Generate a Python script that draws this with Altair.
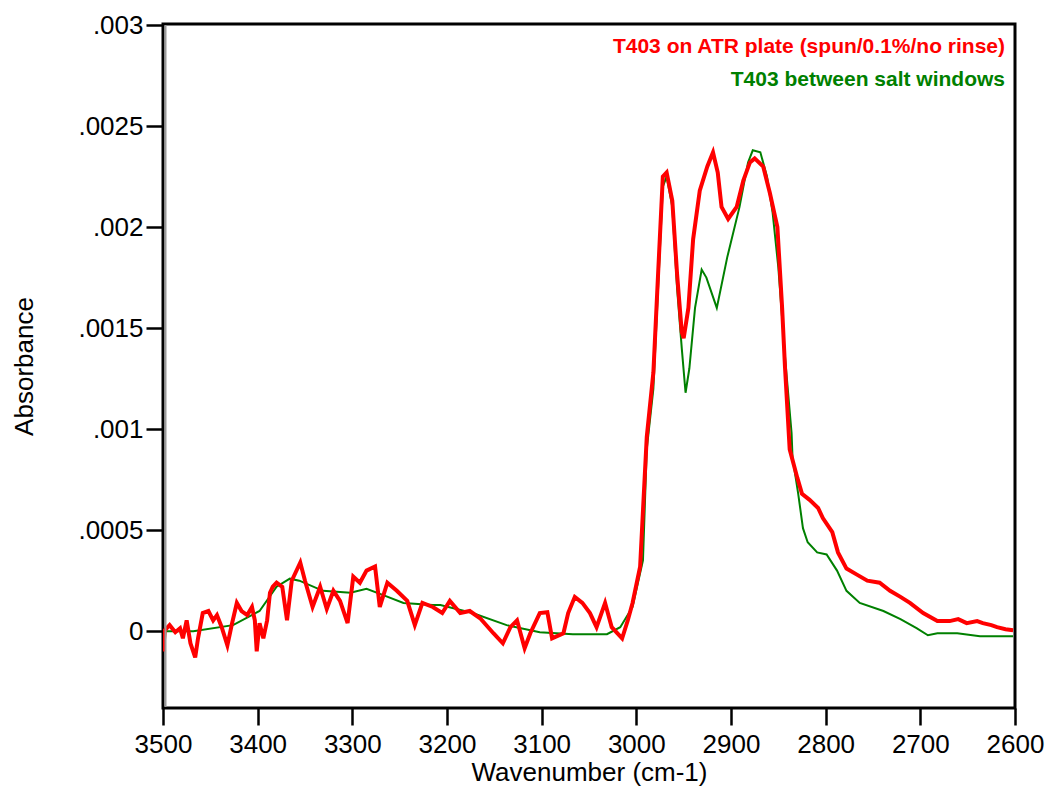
import altair as alt
import pandas as pd

# ---- data ----
red_wn = [3500, 3498, 3493, 3487, 3482, 3479, 3475, 3471, 3466, 3463, 3458, 3452, 3447, 3443, 3438,
          3432, 3427, 3422, 3417, 3411, 3406, 3403, 3401, 3398, 3394, 3390, 3387, 3384, 3380, 3374,
          3369, 3364, 3355, 3350, 3342, 3334, 3327, 3320, 3313, 3305, 3299, 3292, 3285, 3276, 3271,
          3263, 3253, 3242, 3234, 3226, 3215, 3205, 3197, 3186, 3176, 3165, 3151, 3141, 3133, 3126,
          3118, 3112, 3102, 3094, 3089, 3077, 3072, 3065, 3057, 3049, 3042, 3033, 3026, 3015, 3009,
          3004, 2996, 2989, 2982, 2977, 2972, 2968, 2962, 2957, 2952, 2950, 2945, 2940, 2933, 2925,
          2919, 2914, 2910, 2903, 2894, 2887, 2880, 2875, 2866, 2859, 2851, 2846, 2843, 2838, 2830,
          2825, 2817, 2808, 2803, 2793, 2787, 2778, 2767, 2756, 2743, 2732, 2721, 2711, 2697, 2682,
          2669, 2660, 2651, 2640, 2634, 2625, 2619, 2610, 2602]
red_abs = [-0.0001, 0.000005, 0.00003, -0.000005, 0.000015, -0.000035, 0.000054, -0.00006, -0.00013,
           -0.000035, 0.00009, 0.0001, 0.000054, 0.00008, 0.00002, -0.00007, 0.00004, 0.00014, 0.0001,
           0.00008, 0.00012, 0.000054, -0.0001, 0.00004, -0.000035, 0.000054, 0.00019, 0.00022, 0.00024,
           0.00022, 0.000054, 0.00025, 0.00034, 0.00025, 0.00012, 0.00022, 0.00011, 0.0002, 0.00015,
           0.00004, 0.00027, 0.00024, 0.0003, 0.00032, 0.00012, 0.00024, 0.0002, 0.00015, 0.00003,
           0.00014, 0.00012, 0.00009, 0.00015, 0.00009, 0.0001, 0.000064, -0.00001, -0.00006, 0.00002,
           0.000054, -0.000084, -0.00001, 0.00009, 0.000094, -0.000035, -0.00001, 0.00009, 0.00017,
           0.00014, 0.00009, 0.00002, 0.00014, 0.00002, -0.000035, 0.000054, 0.00014, 0.00032, 0.00096,
           0.00128, 0.00177, 0.00225, 0.00227, 0.00213, 0.00177, 0.00148, 0.00145, 0.0016, 0.00194,
           0.00218, 0.0023, 0.00237, 0.00227, 0.0021, 0.00204, 0.0021, 0.00223, 0.00232, 0.00234,
           0.0023, 0.00217, 0.002, 0.0016, 0.00131, 0.0009, 0.00076, 0.00068, 0.00065, 0.00061,
           0.00056, 0.00049, 0.00039, 0.00031, 0.00028, 0.00025, 0.00024, 0.0002, 0.00017, 0.00014,
           0.00009, 0.00005, 0.00005, 0.00006, 0.00004, 0.00005, 0.00004, 0.00003, 0.00002, 0.00001,
           0.000005]

green_wn = [3500, 3468, 3426, 3398, 3380, 3366, 3356, 3331, 3302, 3285, 3268, 3246, 3215, 3207, 3173,
            3137, 3102, 3067, 3031, 3017, 3004, 2993, 2989, 2982, 2977, 2972, 2968, 2962, 2957, 2952,
            2948, 2944, 2938, 2931, 2926, 2915, 2904, 2891, 2882, 2877, 2869, 2862, 2856, 2850, 2843,
            2836, 2835, 2829, 2824, 2819, 2809, 2799, 2788, 2778, 2764, 2739, 2721, 2704, 2692, 2682,
            2661, 2637, 2602]
green_abs = [0.0, 0.0, 0.00003, 0.0001, 0.00022, 0.00026, 0.00025, 0.0002, 0.00019, 0.00021, 0.00018,
             0.00014, 0.00013, 0.00013, 0.00009, 0.00003, -0.000005, -0.000015, -0.000015, 0.00002,
             0.00012, 0.00035, 0.0009, 0.0012, 0.0017, 0.0022, 0.00225, 0.0021, 0.0017, 0.0014, 0.00118,
             0.0013, 0.0016, 0.00179, 0.00175, 0.0016, 0.00185, 0.0021, 0.00232, 0.00238, 0.00237,
             0.00225, 0.00207, 0.0018, 0.00136, 0.00098, 0.00086, 0.00068, 0.00051, 0.00044, 0.00039,
             0.00038, 0.0003, 0.0002, 0.00014, 0.0001, 0.00006, 0.000015, -0.00002, -0.00001, -0.00001,
             -0.000025, -0.000025]

series_names = ["T403 on ATR plate (spun/0.1%/no rinse)", "T403 between salt windows"]
series_colors = ["#FF0000", "#008000"]

x_ticks = [3500, 3400, 3300, 3200, 3100, 3000, 2900, 2800, 2700, 2600]
y_ticks = [0, 0.0005, 0.001, 0.0015, 0.002, 0.0025, 0.003]

W, H = 852, 684
FONT = "Liberation Sans"

df_red = pd.DataFrame({"wn": red_wn, "abs": red_abs, "series": series_names[0]})
df_green = pd.DataFrame({"wn": green_wn, "abs": green_abs, "series": series_names[1]})

xs = alt.Scale(domain=[2600, 3500], reverse=True, nice=False, zero=False)
ys = alt.Scale(domain=[-0.00038, 0.003005], nice=False, zero=False)

x_axis = alt.Axis(values=x_ticks, format="d", title="Wavenumber (cm-1)", grid=False, domain=False,
                  tickColor="black", tickWidth=2.5, tickSize=17, labelFontSize=26, labelFont=FONT,
                  labelColor="black", labelPadding=6, titleFont=FONT, titleFontSize=26,
                  titleFontWeight="normal", titleColor="black", titlePadding=2, labelFlush=False,
                  labelOverlap=False)
y_axis = alt.Axis(values=y_ticks, title="Absorbance", grid=False, domain=False,
                  tickColor="black", tickWidth=2.5, tickSize=17, labelFontSize=26, labelFont=FONT,
                  labelColor="black", labelPadding=3,
                  labelExpr="datum.value == 0 ? '0' : replace(format(datum.value, '.4~f'), '0.', '.')",
                  titleFont=FONT, titleFontSize=26, titleFontWeight="normal", titleColor="black",
                  titlePadding=40, labelFlush=False)

color = alt.Color("series:N", scale=alt.Scale(domain=series_names, range=series_colors), legend=None)

green = alt.Chart(df_green).mark_line(strokeWidth=2, clip=True).encode(
    x=alt.X("wn:Q", scale=xs, axis=x_axis),
    y=alt.Y("abs:Q", scale=ys, axis=y_axis),
    color=color,
)
red = alt.Chart(df_red).mark_line(strokeWidth=4, clip=True).encode(
    x=alt.X("wn:Q", scale=xs),
    y=alt.Y("abs:Q", scale=ys),
    color=color,
)

shadow = alt.Chart(pd.DataFrame({"a": [0]})).mark_rule(color="#9a9a9a", strokeWidth=2).encode(
    x=alt.value(2.5), y=alt.value(1), y2=alt.value(H - 1))

leg1 = alt.Chart(pd.DataFrame({"t": [series_names[0]]})).mark_text(
    align="right", baseline="middle", font=FONT, fontSize=21, fontWeight="bold",
    color=series_colors[0]).encode(text="t:N", x=alt.value(842), y=alt.value(23))
leg2 = alt.Chart(pd.DataFrame({"t": [series_names[1]]})).mark_text(
    align="right", baseline="middle", font=FONT, fontSize=21, fontWeight="bold",
    color=series_colors[1]).encode(text="t:N", x=alt.value(842), y=alt.value(56))

chart = alt.layer(green, red, shadow, leg1, leg2).properties(
    width=W, height=H,
    autosize=alt.AutoSizeParams(type="none"),
    padding={"left": 163, "top": 24, "right": 31, "bottom": 83},
    background="white",
).configure_view(stroke="black", strokeWidth=3)

chart.save("out.html", embed_options={"renderer": "svg", "actions": False})
